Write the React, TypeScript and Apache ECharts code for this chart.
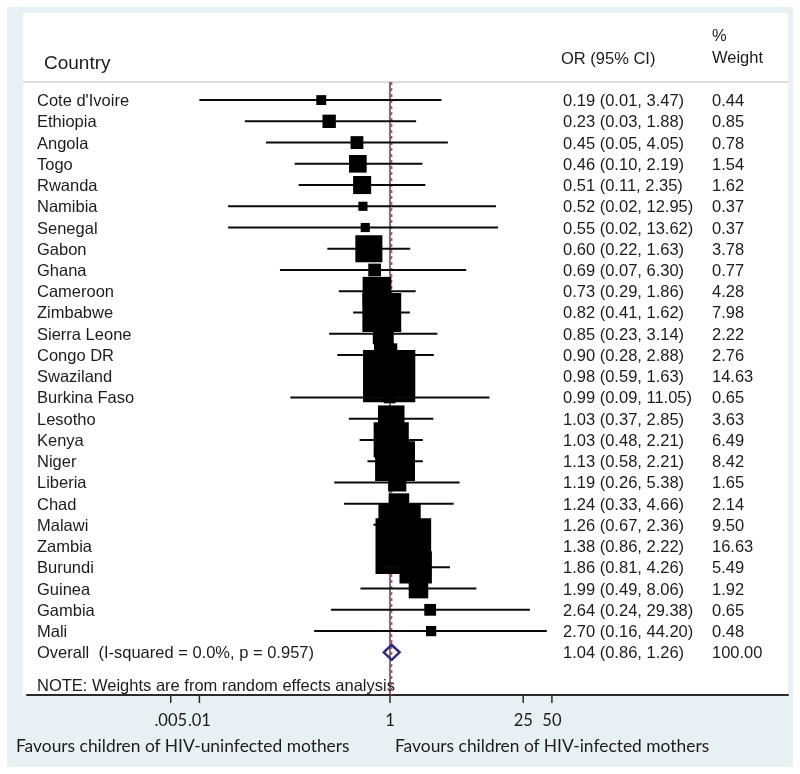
import React, { useEffect, useRef } from 'react';
import * as echarts from 'echarts';

const countries = [
  "Cote d'Ivoire", 'Ethiopia', 'Angola', 'Togo', 'Rwanda', 'Namibia', 'Senegal', 'Gabon', 'Ghana',
  'Cameroon', 'Zimbabwe', 'Sierra Leone', 'Congo DR', 'Swaziland', 'Burkina Faso', 'Lesotho', 'Kenya',
  'Niger', 'Liberia', 'Chad', 'Malawi', 'Zambia', 'Burundi', 'Guinea', 'Gambia', 'Mali',
];
const oddsRatios = [0.19, 0.23, 0.45, 0.46, 0.51, 0.52, 0.55, 0.6, 0.69, 0.73, 0.82, 0.85, 0.9, 0.98, 0.99, 1.03, 1.03, 1.13, 1.19, 1.24, 1.26, 1.38, 1.86, 1.99, 2.64, 2.7];
const lowerCI = [0.01, 0.03, 0.05, 0.1, 0.11, 0.02, 0.02, 0.22, 0.07, 0.29, 0.41, 0.23, 0.28, 0.59, 0.09, 0.37, 0.48, 0.58, 0.26, 0.33, 0.67, 0.86, 0.81, 0.49, 0.24, 0.16];
const upperCI = [3.47, 1.88, 4.05, 2.19, 2.35, 12.95, 13.62, 1.63, 6.3, 1.86, 1.62, 3.14, 2.88, 1.63, 11.05, 2.85, 2.21, 2.21, 5.38, 4.66, 2.36, 2.22, 4.26, 8.06, 29.38, 44.2];
const weights = [0.44, 0.85, 0.78, 1.54, 1.62, 0.37, 0.37, 3.78, 0.77, 4.28, 7.98, 2.22, 2.76, 14.63, 0.65, 3.63, 6.49, 8.42, 1.65, 2.14, 9.5, 16.63, 5.49, 1.92, 0.65, 0.48];

const overallLabel = 'Overall  (I-squared = 0.0%, p = 0.957)';
const overallOR = 1.04;
const overallLower = 0.86;
const overallUpper = 1.26;
const overallWeight = 100.0;
const nullValue = 1;

const xTicks = [0.005, 0.01, 1, 25, 50];
const xTickLabels = ['.005', '.01', '1', '25', '50'];

const noteText = 'NOTE: Weights are from random effects analysis';
const leftFooter = 'Favours children of HIV-uninfected mothers';
const rightFooter = 'Favours children of HIV-infected mothers';

const SANS = '"Liberation Sans", Arial, Helvetica, sans-serif';
const HUMAN = 'Lato, "Open Sans", sans-serif';
const TXT = '#1c1c1c';

const Y_HEADER = -0.851;
const Y_MIN = -4.1;
const Y_MAX = 28.01;

export default function App() {
  const ref = useRef<HTMLDivElement>(null);
  useEffect(() => {
    const chart = echarts.init(ref.current as HTMLDivElement, null, { renderer: 'svg' });
    const fmt = (v: number) => v.toFixed(2);
    const studyData = countries.map((_, i) => [i, oddsRatios[i], lowerCI[i], upperCI[i], weights[i]]);
    const overallIndex = countries.length;

    const option: any = {
      animation: false,
      grid: { left: 27, right: 12, top: 13, bottom: 79, containLabel: false },
      xAxis: {
        type: 'log',
        logBase: 10,
        min: 0.0001552,
        max: 15010,
        axisLine: { show: true, onZero: false, lineStyle: { color: '#2a2a2a', width: 2 } },
        axisTick: { show: false },
        axisLabel: { show: false },
        splitLine: { show: false },
      },
      yAxis: { type: 'value', inverse: true, min: Y_MIN, max: Y_MAX, show: false },
      graphic: [
        { type: 'rect', z: -20, shape: { x: 7, y: 7, width: 786, height: 760 }, style: { fill: '#e7f0f3' } },
        { type: 'rect', z: -19, shape: { x: 23, y: 13, width: 765, height: 682 }, style: { fill: '#ffffff' } },
        { type: 'line', z: -18, shape: { x1: 23, y1: 82, x2: 788, y2: 82 }, style: { stroke: '#d2d2d2', lineWidth: 1.5 } },
        { type: 'text', x: 44, y: 62, style: { text: 'Country', fontFamily: SANS, fontSize: 19, fill: TXT, verticalAlign: 'middle' } },
        { type: 'text', x: 561, y: 58, style: { text: 'OR (95% CI)', fontFamily: SANS, fontSize: 16.5, fill: TXT, verticalAlign: 'middle' } },
        { type: 'text', x: 712, y: 35, style: { text: '%', fontFamily: SANS, fontSize: 16.5, fill: TXT, verticalAlign: 'middle' } },
        { type: 'text', x: 712, y: 57, style: { text: 'Weight', fontFamily: SANS, fontSize: 16.5, fill: TXT, verticalAlign: 'middle' } },
        { type: 'text', x: 37, y: 685, style: { text: noteText, fontFamily: SANS, fontSize: 16.5, fill: TXT, verticalAlign: 'middle' } },
        { type: 'text', x: 16, y: 745, style: { text: leftFooter, fontFamily: HUMAN, fontSize: 17.4, fill: TXT, verticalAlign: 'middle' } },
        { type: 'text', x: 395, y: 745, style: { text: rightFooter, fontFamily: HUMAN, fontSize: 17.4, fill: TXT, verticalAlign: 'middle' } },
      ],
      series: [
        {
          type: 'custom',
          name: 'reference',
          z: 1,
          encode: { x: 0, y: 1 },
          data: [[nullValue, Y_HEADER, 0], [overallOR, Y_HEADER, 1]],
          renderItem: (params: any, api: any) => {
            const v = api.value(0);
            const kind = api.value(2);
            const p1 = api.coord([v, Y_HEADER]);
            const p2 = api.coord([v, Y_MAX]);
            return {
              type: 'line',
              shape: { x1: p1[0], y1: p1[1], x2: p2[0], y2: p2[1] },
              style: kind === 0
                ? { stroke: '#3a2630', lineWidth: 1.3 }
                : { stroke: '#b8506a', lineWidth: 1.5, lineDash: [3, 3] },
            };
          },
        },
        {
          type: 'custom',
          name: 'studies',
          z: 3,
          encode: { x: [1, 2, 3], y: 0 },
          data: studyData,
          renderItem: (params: any, api: any) => {
            const i = api.value(0);
            const est = api.value(1);
            const lo = api.value(2);
            const hi = api.value(3);
            const w = api.value(4);
            const pLo = api.coord([lo, i]);
            const pHi = api.coord([hi, i]);
            const pE = api.coord([est, i]);
            const s = 13.4 * Math.sqrt(w) + 1;
            const idx = params.dataIndex;
            return {
              type: 'group',
              children: [
                { type: 'line', shape: { x1: pLo[0], y1: pLo[1], x2: pHi[0], y2: pHi[1] }, style: { stroke: '#0a0a0a', lineWidth: 2 } },
                { type: 'rect', shape: { x: pE[0] - s / 2, y: pE[1] - s / 2, width: s, height: s }, style: { fill: '#000000' } },
                { type: 'text', x: 37, y: pE[1], style: { text: countries[idx], fontFamily: SANS, fontSize: 16.5, fill: TXT, verticalAlign: 'middle' } },
                { type: 'text', x: 563, y: pE[1], style: { text: `${fmt(oddsRatios[idx])} (${fmt(lowerCI[idx])}, ${fmt(upperCI[idx])})`, fontFamily: SANS, fontSize: 16.5, fill: TXT, verticalAlign: 'middle' } },
                { type: 'text', x: 712, y: pE[1], style: { text: fmt(weights[idx]), fontFamily: SANS, fontSize: 16.5, fill: TXT, verticalAlign: 'middle' } },
              ],
            };
          },
        },
        {
          type: 'custom',
          name: 'overall',
          z: 4,
          encode: { x: [1, 2, 3], y: 0 },
          data: [[overallIndex, overallOR, overallLower, overallUpper, overallWeight]],
          renderItem: (params: any, api: any) => {
            const i = api.value(0);
            const pLo = api.coord([api.value(2), i]);
            const pHi = api.coord([api.value(3), i]);
            const pE = api.coord([api.value(1), i]);
            const h = 7.5;
            return {
              type: 'group',
              children: [
                {
                  type: 'polygon',
                  shape: { points: [[pLo[0], pE[1]], [pE[0], pE[1] - h], [pHi[0], pE[1]], [pE[0], pE[1] + h]] },
                  style: { fill: 'rgba(255,255,255,0)', stroke: '#2c2a7c', lineWidth: 2.5 },
                },
                { type: 'text', x: 37, y: pE[1], style: { text: overallLabel, fontFamily: SANS, fontSize: 16.5, fill: TXT, verticalAlign: 'middle' } },
                { type: 'text', x: 563, y: pE[1], style: { text: `${fmt(overallOR)} (${fmt(overallLower)}, ${fmt(overallUpper)})`, fontFamily: SANS, fontSize: 16.5, fill: TXT, verticalAlign: 'middle' } },
                { type: 'text', x: 712, y: pE[1], style: { text: fmt(overallWeight), fontFamily: SANS, fontSize: 16.5, fill: TXT, verticalAlign: 'middle' } },
              ],
            };
          },
        },
        {
          type: 'custom',
          name: 'ticks',
          z: 5,
          encode: { x: 0, y: 1 },
          data: xTicks.map((v) => [v, Y_MAX]),
          renderItem: (params: any, api: any) => {
            const p = api.coord([api.value(0), Y_MAX]);
            return {
              type: 'group',
              children: [
                { type: 'line', shape: { x1: p[0], y1: p[1], x2: p[0], y2: p[1] + 8 }, style: { stroke: '#2a2a2a', lineWidth: 1.5 } },
                { type: 'text', x: p[0], y: 720, style: { text: xTickLabels[params.dataIndex], fontFamily: HUMAN, fontSize: 16.5, fill: TXT, align: 'center', verticalAlign: 'middle' } },
              ],
            };
          },
        },
      ],
    };
    chart.setOption(option);
    return () => chart.dispose();
  }, []);
  return <div ref={ref} style={{ position: 'fixed', left: 0, top: 0, width: 800, height: 774 }} />;
}
